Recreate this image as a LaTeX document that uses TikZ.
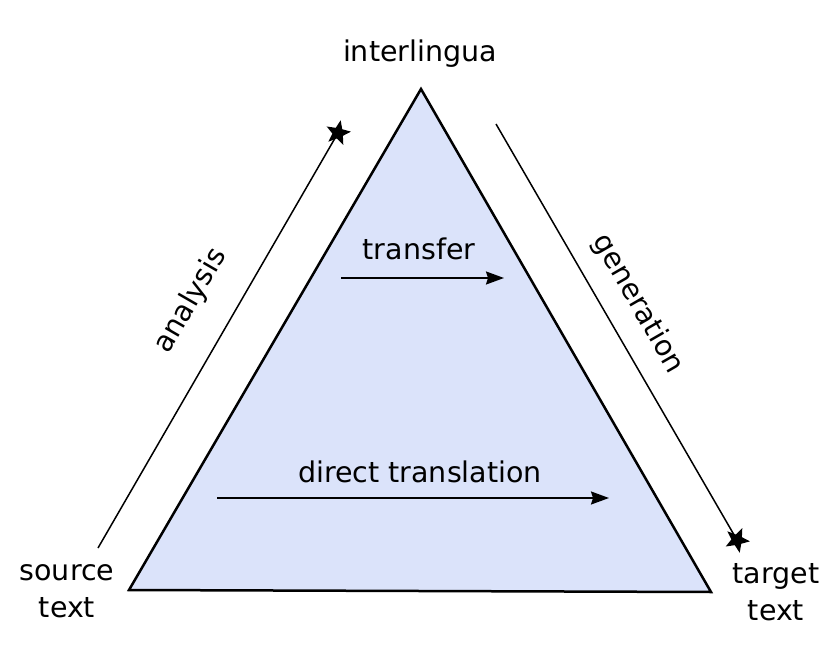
\documentclass[tikz,border=0pt]{standalone}
\usepackage{fontspec}
\setmainfont{DejaVu Sans}
\usetikzlibrary{arrows.meta,shapes.geometric}
\definecolor{trifill}{RGB}{219,227,250}
\tikzset{
  lbl/.style={inner sep=0pt, font=\fontsize{28.5}{37}\selectfont, align=center},
  starmark/.style={star, star points=5, star point ratio=2.3, fill=black, draw=none, minimum size=26pt, inner sep=0pt},
  flowline/.style={line width=1.5pt},
  flowarrow/.style={line width=1.7pt, -{Stealth[inset=2pt,length=18pt,width=13pt]}},
}
\begin{document}
\begin{tikzpicture}[x=1pt,y=-1pt]
\useasboundingbox (0,0) rectangle (840,652);
% triangle
\coordinate (apex) at (421,89);
\coordinate (bl) at (129,590);
\coordinate (br) at (711,592);
\draw[line width=2.5pt, fill=trifill, line join=miter] (apex) -- (bl) -- (br) -- cycle;
% labels
\node[lbl, anchor=base] (inter) at (420,62) {interlingua};
\node[lbl, anchor=base] (transfer) at (419,260) {transfer};
\node[lbl, anchor=base] (direct) at (420,482) {direct translation};
\node[lbl, anchor=base] (source) at (67,617) {source\\text};
\node[lbl, anchor=base] (target) at (776,620) {target\\text};
\node[lbl, rotate=60] (analysis) at (191,301) {analysis};
\node[lbl, rotate=-60] (generation) at (638,304) {generation};
% analysis line
\coordinate (a0) at (98,548);
\node[starmark, rotate=-30+90] (s1) at (338,133) {};
\draw[flowline] (a0) -- (s1.center);
% generation line
\coordinate (g0) at (496,124);
\node[starmark, rotate=30+90] (s2) at (737,540) {};
\draw[flowline] (g0) -- (s2.center);
% arrows
\coordinate (t0) at (341,278);
\coordinate (t1) at (504,278);
\draw[flowarrow] (t0) -- (t1);
\coordinate (d0) at (217,498);
\coordinate (d1) at (609,498);
\draw[flowarrow] (d0) -- (d1);
\end{tikzpicture}
\end{document}
